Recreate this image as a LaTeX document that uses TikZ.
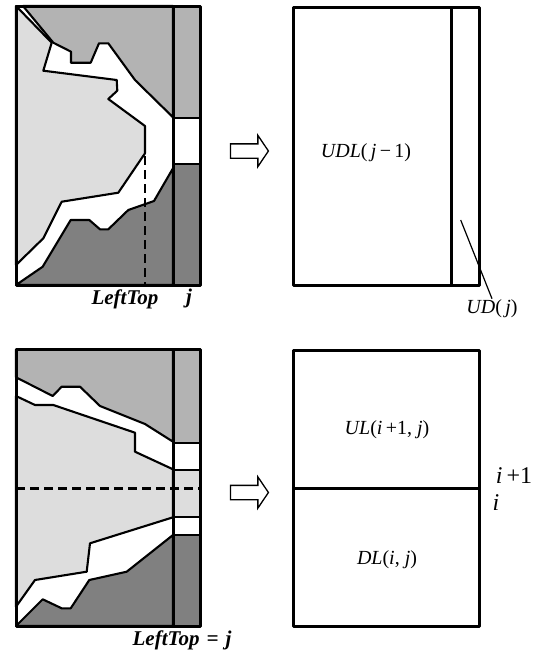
\documentclass[tikz,border=0pt]{standalone}
\usepackage{fontspec}
\setmainfont{Liberation Serif}
\usetikzlibrary{shapes.arrows}

\definecolor{uppergray}{HTML}{B3B3B3}
\definecolor{leftgray}{HTML}{DDDDDD}
\definecolor{lowergray}{HTML}{808080}

\begin{document}
\begin{tikzpicture}[
				x=1pt,y=-1pt,
				region/.style={draw,line width=2.1pt,line join=round},
				frame/.style={draw,line width=3pt,line join=round},
				goesto/.style={single arrow,draw,line width=1.3pt,inner sep=0pt,
					minimum height=38pt,single arrow head extend=8.5pt,
					single arrow tip angle=112},
				lbl/.style={inner sep=1pt,font=\fontsize{20}{22}\selectfont},
				blbl/.style={inner sep=1pt,font=\fontsize{21}{23}\selectfont\bfseries\itshape}
			]
			\useasboundingbox (0,0) rectangle (543,654);
			
			% top left panel
			\fill [white] (16,6) rectangle (200,285);
			\path [region,fill=uppergray] (23,6) -- (53.3,42.7) -- (71,51.7) -- (71,62.7) -- (90.7,62.7) -- (99,43.3) -- (108.3,43.3) -- (135,80) -- (173,117.3) -- (173,6) -- cycle;
			\path [region,fill=leftgray] (16,6) -- (51.7,42.7) -- (43.3,70.7) -- (116.7,80) -- (117.3,90.7) -- (108.3,99) -- (145,126) -- (145,153.3) -- (118.3,192.7) -- (61.7,201.7) -- (43.3,238.3) -- (16,265) -- cycle;
			\path [region,fill=lowergray] (16,285) -- (42.7,266.7) -- (70.7,220) -- (89.3,220) -- (100,229.3) -- (108.3,229.3) -- (128.3,210) -- (154,201) -- (173,168.3) -- (173,285) -- cycle;
			\path [region,fill=uppergray] (173,6) rectangle (200,118);
			\path [region,fill=white] (173,118) rectangle (200,164);
			\path [region,fill=lowergray] (173,164) rectangle (200,285);
			\draw [line width=2.4pt,dash pattern=on 9pt off 5pt] (145,128) -- (145,285);
			\path [frame] (16,6) rectangle (200,285);
			\draw [line width=3pt] (173,6) -- (173,285);
			\node [blbl] (lefttop) at (125,299) {LeftTop};
			\node [blbl] (jlbl) at (189,298) {j};
			
			% bottom left panel
			\fill [white] (16,349.3) rectangle (200,626);
			\path [region,fill=uppergray] (16,349.3) -- (16,377.3) -- (52.7,396) -- (61.7,386.7) -- (80,386.7) -- (100,406) -- (145,424) -- (173,441.7) -- (173,349.3) -- cycle;
			\path [region,fill=leftgray] (16,396) -- (35,405) -- (53.3,405) -- (135,432.7) -- (135,451.7) -- (173,469.3) -- (173,517.3) -- (90,543.3) -- (86.7,571.7) -- (35,580) -- (16,606.7) -- cycle;
			\path [region,fill=lowergray] (16,626) -- (42.7,599.3) -- (61.7,608.3) -- (70.7,608.3) -- (89.3,580) -- (126.7,571.7) -- (173,535) -- (173,626) -- cycle;
			\path [region,fill=uppergray] (173,349.3) rectangle (200,442.7);
			\path [region,fill=white] (173,442.7) rectangle (200,470);
			\path [region,fill=leftgray] (173,470) rectangle (200,516.7);
			\path [region,fill=white] (173,516.7) rectangle (200,535);
			\path [region,fill=lowergray] (173,535) rectangle (200,626);
			\draw [line width=2.4pt,dash pattern=on 9pt off 5pt] (16,488.3) -- (200,488.3);
			\path [frame] (16,349.3) rectangle (200,626);
			\draw [line width=3pt] (173,349.3) -- (173,626);
			\node [blbl] (lefttopj) at (182,640) {LeftTop\,\,=\,\,j};
			
			% arrows
			\node [goesto] (arrtop) at (247,151) {\rule{0pt}{13pt}};
			\node [goesto] (arrbot) at (247,492.5) {\rule{0pt}{13pt}};
			
			% top right panel
			\path [frame] (293.3,7.3) rectangle (479.3,285);
			\draw [line width=3pt] (451.7,7.3) -- (451.7,285);
			\node [lbl] (udl) at (366,153) {\textit{UDL}(\,\textit{j}\,−\,1)};
			\node [lbl] (udj) at (492,309) {\textit{UD}(\,\textit{j})};
			\coordinate (udtip) at (460.7,220);
			\draw [line width=1.2pt] (udtip) -- (udj.north);
			
			% bottom right panel
			\path [frame] (293.3,350) rectangle (479.3,626.7);
			\draw [line width=2.4pt] (293.3,488.3) -- (479.3,488.3);
			\node [lbl] (ul) at (387,430) {\textit{UL}(\textit{i}\,+1, \textit{j})};
			\node [lbl] (dl) at (387,560) {\textit{DL}(\textit{i}, \textit{j})};
			\node [inner sep=1pt,font=\fontsize{24}{26}\selectfont] (iplus) at (514,476) {\textit{i}\,+1};
			\node [inner sep=1pt,font=\fontsize{24}{26}\selectfont] (ilbl) at (496,503) {\textit{i}};
		\end{tikzpicture}
\end{document}
